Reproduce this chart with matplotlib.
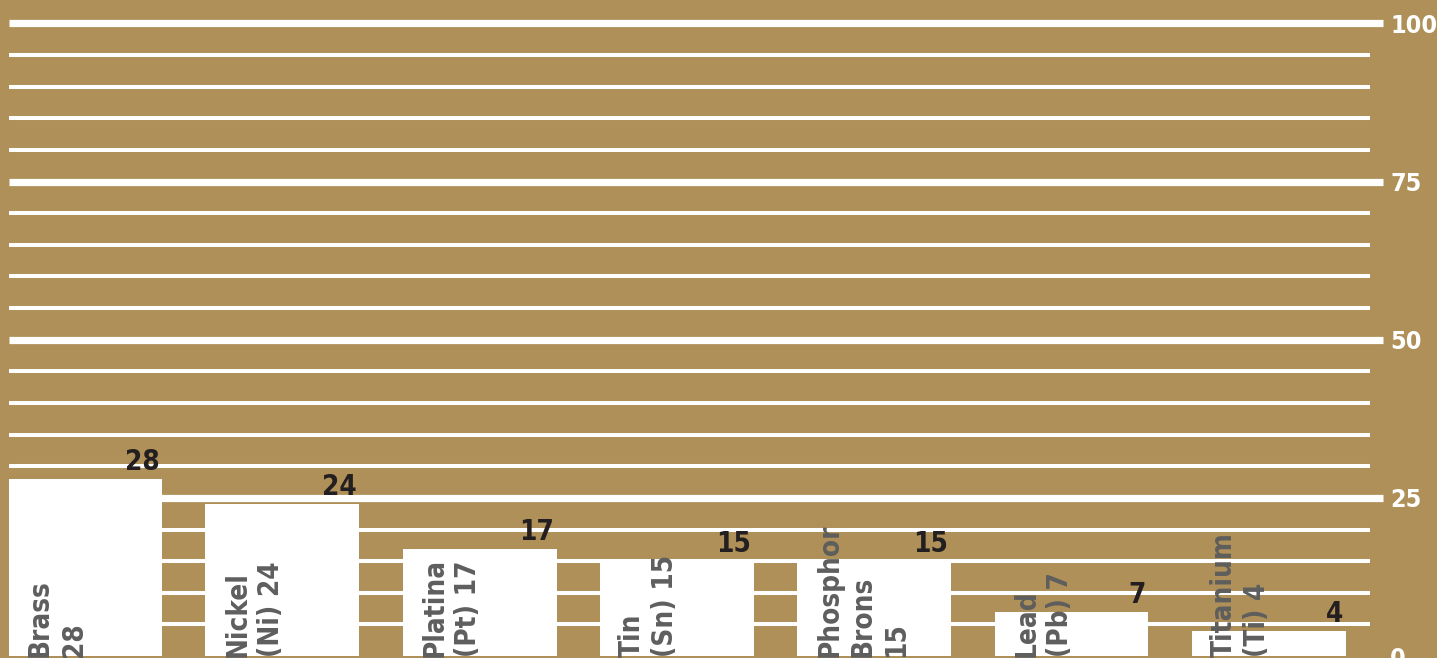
import matplotlib
matplotlib.use("Agg")
import matplotlib.pyplot as plt
import numpy as np

plt.rcParams['font.family'] = ['DejaVu Sans']
plt.rcParams['font.stretch'] = 'condensed'

# data
names = ['Brass\n28', 'Nickel\n(Ni) 24', 'Platina\n(Pt) 17', 'Tin\n(Sn) 15',
         'Phosphor\nBrons\n15', 'Lead\n(Pb) 7', 'Titanium\n(Ti) 4']
values = [28, 24, 17, 15, 15, 7, 4]
value_labels = ['28', '24', '17', '15', '15', '7', '4']
yticks = [0, 25, 50, 75, 100]

bg = '#B09059'
dark = '#231F20'
grey = '#5E5E5E'

fig = plt.figure(figsize=(14.37, 6.58), dpi=100, facecolor=bg)
ax = fig.add_axes([9/1437, 0, (1370-9)/1437, 1])
ax.set_facecolor(bg)

x = np.arange(len(values))
ax.set_xlim(-0.385, 6.513)
ax.set_ylim(-0.3, 103.7)

# horizontal rules every 5, longer/thicker on the labelled ones
for v in range(5, 101, 5):
    if v % 25 == 0:
        ax.axhline(v, xmin=0, xmax=1.0096, color='white', lw=5.2, zorder=1,
                   clip_on=False, solid_capstyle='butt')
    else:
        ax.axhline(v, color='white', lw=2.9, zorder=1, solid_capstyle='butt')

bars = ax.bar(x, values, width=0.78, color='white', zorder=2, linewidth=0)

for b, lab, name in zip(bars, value_labels, names):
    ax.annotate(lab, (b.get_x() + b.get_width(), b.get_height()),
                xytext=(-2, 2), textcoords='offset points', ha='right', va='bottom',
                fontsize=20, fontweight='bold', color=dark, zorder=4,
                annotation_clip=False)
    ax.annotate(name, (b.get_x(), 0), xytext=(13, -1), textcoords='offset points',
                rotation=90, rotation_mode='anchor', ha='left', va='top',
                fontsize=20, fontweight='bold', color=grey, linespacing=1.25,
                zorder=3, multialignment='left', annotation_clip=False)

ax.yaxis.tick_right()
ax.set_yticks(yticks)
ax.set_yticklabels([str(t) for t in yticks])
ax.tick_params(axis='y', length=0, pad=14.5, labelsize=18, labelcolor='white')
for lbl in ax.get_yticklabels():
    lbl.set_fontweight('bold')
ax.set_xticks([])
for s in ax.spines.values():
    s.set_visible(False)

fig.savefig('out.png', dpi=100, facecolor=bg)
